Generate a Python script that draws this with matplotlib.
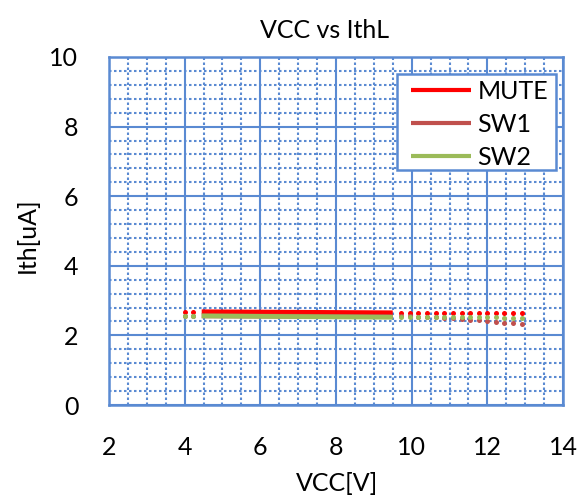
import matplotlib
matplotlib.use("Agg")
import matplotlib.pyplot as plt
from matplotlib.ticker import MultipleLocator
from matplotlib.patches import Rectangle

plt.rcParams['font.family'] = ['Lato', 'DejaVu Sans']

# ---- data ----
series_names = ["MUTE", "SW1", "SW2"]
series_colors = ["#FF0000", "#C0504D", "#9BBB59"]

# sparse measured points (drawn as dots)
vcc_dots = [4.00, 4.23, 9.72, 9.95, 10.18, 10.40, 10.63, 10.86, 11.09,
            11.32, 11.54, 11.77, 12.00, 12.23, 12.45, 12.68, 12.91]
mute_dots = [2.68, 2.68, 2.65, 2.65, 2.65, 2.65, 2.65, 2.65, 2.65,
             2.65, 2.65, 2.65, 2.65, 2.65, 2.65, 2.65, 2.65]
sw1_dots = [2.56, 2.56, 2.55, 2.55, 2.54, 2.53, 2.52, 2.51, 2.49,
            2.47, 2.45, 2.43, 2.41, 2.39, 2.37, 2.36, 2.34]
sw2_dots = [2.56, 2.56, 2.53, 2.53, 2.53, 2.53, 2.53, 2.53, 2.53,
            2.52, 2.52, 2.52, 2.52, 2.52, 2.51, 2.51, 2.51]

# dense measured section (drawn as a continuous line)
vcc_seg = [4.45, 9.50]
mute_seg = [2.68, 2.65]
sw1_seg = [2.56, 2.54]
sw2_seg = [2.56, 2.52]

x_ticks = [2, 4, 6, 8, 10, 12, 14]
y_ticks = [0, 2, 4, 6, 8, 10]

title = "VCC vs IthL"
xlabel = "VCC[V]"
ylabel = "Ith[uA]"

grid_color = "#5A8AD2"

W, H = 587, 498
fig = plt.figure(figsize=(W / 100, H / 100), dpi=100)
ax = fig.add_axes([109 / W, 1 - 405 / H, (563 - 109) / W, (405 - 57) / H])

ax.set_xlim(2, 14)
ax.set_ylim(0, 10)
ax.set_xticks(x_ticks)
ax.set_yticks(y_ticks)
ax.xaxis.set_minor_locator(MultipleLocator(0.5))
ax.yaxis.set_minor_locator(MultipleLocator(0.4))

ax.grid(which="major", color=grid_color, lw=1.5, ls="-", zorder=0)
ax.grid(which="minor", color=grid_color, lw=1.5, ls=(0, (1.2, 1.2)), zorder=0)
ax.set_axisbelow(True)
for s in ax.spines.values():
    s.set_color(grid_color)
    s.set_linewidth(1.8)

ax.tick_params(which="both", length=0)
ax.tick_params(axis="x", pad=22, labelsize=18)
ax.tick_params(axis="y", pad=22, labelsize=18)

seg_data = [mute_seg, sw1_seg, sw2_seg]
dot_data = [mute_dots, sw1_dots, sw2_dots]
for name, col, seg, dots in zip(series_names, series_colors, seg_data, dot_data):
    ax.plot(vcc_seg, seg, color=col, lw=3.4, solid_capstyle="butt", label=name, zorder=3)
    ax.plot(vcc_dots, dots, ls="none", marker="o", ms=3.6, mec="none", color=col, zorder=3)

# legend box
box = Rectangle((397 / W, 1 - 170 / H), (556 - 397) / W, (170 - 74) / H,
                transform=fig.transFigure, facecolor="white", edgecolor=grid_color,
                lw=1.8, zorder=4, clip_on=False)
ax.add_patch(box)
leg = ax.legend(loc="upper left", bbox_to_anchor=(411 / W, 1 - 80 / H),
                bbox_transform=fig.transFigure, fontsize=18, frameon=False,
                handlelength=2.4, handletextpad=0.25, labelspacing=0.4,
                borderpad=0, borderaxespad=0)
leg.set_zorder(5)
for l in leg.get_lines():
    l.set_linewidth(3)

fig.text(325 / W, 1 - 38 / H, title, ha="center", va="baseline", fontsize=18)
fig.text(337 / W, 1 - 491 / H, xlabel, ha="center", va="baseline", fontsize=18)
fig.text(27 / W, 1 - 235 / H, ylabel, ha="center", va="center", rotation=90, fontsize=18)

fig.savefig("out.png", dpi=100)
